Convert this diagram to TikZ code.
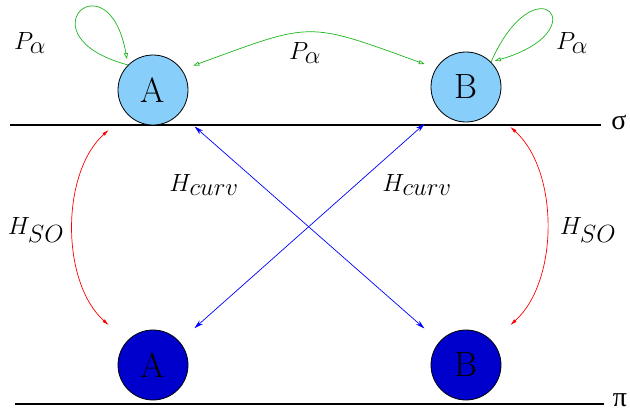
\documentclass[tikz,border=0pt]{standalone}
\usepackage{fontspec}
\newfontfamily\symfont{Liberation Serif}
\usetikzlibrary{arrows.meta}
\definecolor{lightblue}{RGB}{135,206,250}
\definecolor{darkblue}{RGB}{0,0,205}
\definecolor{figgreen}{RGB}{30,180,30}
\begin{document}
\begin{tikzpicture}[x=1pt,y=-1pt,
  statetop/.style={circle,draw=black,line width=0.8pt,fill=lightblue,minimum size=70pt,inner sep=0pt,font=\fontsize{35}{40}\selectfont},
  statebot/.style={statetop,fill=darkblue},
  lbl/.style={font=\fontsize{23}{28}\selectfont},
  sym/.style={font=\symfont\fontsize{28}{30}\selectfont,inner sep=0pt},
  axisline/.style={line width=1.5pt,black},
  gtip/.tip={Triangle[open,length=6pt,width=4pt]},
  greenarr/.style={draw=figgreen,line width=0.7pt,gtip-gtip},
  greenloop/.style={draw=figgreen,line width=0.7pt,-gtip},
  bluearr/.style={draw=blue,line width=0.7pt,{Stealth[length=9pt,width=5pt]}-{Stealth[length=9pt,width=5pt]},shorten <=20pt,shorten >=20pt},
  redarr/.style={draw=red,line width=0.7pt,{Latex[length=7pt,width=3.5pt]}-{Latex[length=7pt,width=3.5pt]},shorten <=24pt,shorten >=24pt}
]
\useasboundingbox (0,0) rectangle (630,420);
\draw[axisline] (10,125) -- (601,125);
\draw[axisline] (15,404) -- (604,404);
\node[sym] (sigma) at (619,122) {σ};
\node[sym] (pi) at (620,400) {π};

\node[statetop] (A1) at (153,90) {A};
\node[statetop] (B1) at (466,87) {B};
\node[statebot] (A2) at (153,365) {A};
\node[statebot] (B2) at (466,365) {B};

\draw[bluearr] (A1) -- (B2);
\draw[bluearr] (B1) -- (A2);

\draw[redarr] (A1) to[out=222,in=138] (A2);
\draw[redarr] (B1) to[out=318,in=42] (B2);

\draw[greenarr,shorten <=12pt,shorten >=12pt] (A1.35) to[out=20,in=160,looseness=1.4] (B1.148);
\draw[greenloop,shorten >=6pt] (A1.135) to[out=165,in=100,distance=112pt] (A1.135);
\draw[greenloop,shorten >=4pt] (B1.45) to[out=66,in=16,distance=112pt] (B1.45);

\node[lbl] (pl) at (30,43) {$P_{\textstyle\alpha}$};
\node[lbl] (pr) at (572,43) {$P_{\textstyle\alpha}$};
\node[lbl] (pm) at (305,53) {$P_{\textstyle\alpha}$};
\node[lbl] (hcl) at (204,185) {$H_{\textstyle curv}$};
\node[lbl] (hcr) at (417,185) {$H_{\textstyle curv}$};
\node[lbl] (hsl) at (36,230) {$H_{\textstyle SO}$};
\node[lbl] (hsr) at (588,230) {$H_{\textstyle SO}$};
\end{tikzpicture}
\end{document}
